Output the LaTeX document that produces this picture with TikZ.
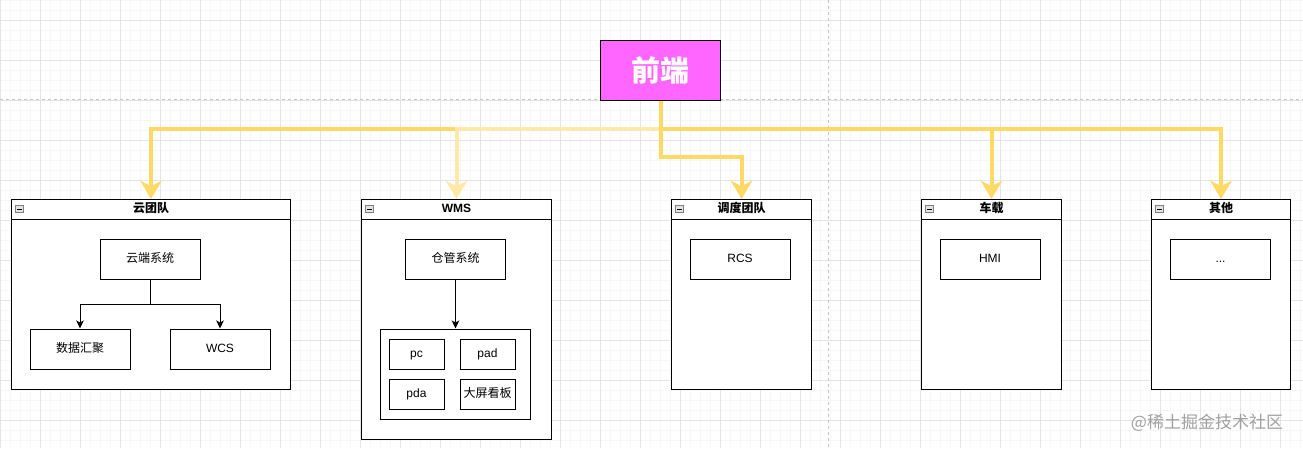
\documentclass[tikz,border=0pt]{standalone}
\usepackage{fontspec}
\setmainfont{Liberation Sans}
\newfontfamily\cjk{Noto Sans CJK SC}
\usetikzlibrary{arrows.meta}
\definecolor{gridmaj}{HTML}{E4E4E4}
\definecolor{gridmin}{HTML}{F7F7F7}
\definecolor{pagebrk}{HTML}{C4C4C4}
\definecolor{yel}{HTML}{FFD966}
\definecolor{yellight}{HTML}{FFE9A8}
\definecolor{mag}{HTML}{FF66FF}
\definecolor{wm}{HTML}{A0A0A0}
\tikzset{
  minorline/.style={draw=gridmin,line width=0.6pt},
  majorline/.style={draw=gridmaj,line width=0.8pt},
  brk/.style={draw=pagebrk,line width=0.8pt,dash pattern=on 3pt off 3pt},
  cont/.style={draw=black,line width=1pt,fill=white,anchor=north west,inner sep=0pt},
  box/.style={draw=black,line width=1pt,fill=white,minimum width=100pt,minimum height=40pt,inner sep=0pt,
              text height=9pt,text depth=2.5pt,font=\fontsize{12}{14}\selectfont},
  small/.style={draw=black,line width=1pt,fill=white,minimum width=55pt,minimum height=30pt,inner sep=0pt,
              text height=9pt,text depth=2.5pt,font=\fontsize{12}{14}\selectfont},
  title/.style={font=\fontsize{12}{14}\selectfont\bfseries,inner sep=0pt,text height=9pt,text depth=2.5pt},
  yline/.style={draw=yel,line width=4pt,-{Stealth[length=18pt,width=21pt,inset=5pt]}},
  ylinelight/.style={draw=yellight,line width=4pt,-{Stealth[length=18pt,width=21pt,inset=5pt]}},
  bline/.style={draw=black,line width=1pt,-{Stealth[length=8pt,width=7.5pt,inset=2pt]}},
  minus/.style={draw=gray,fill=gridmaj,line width=0.6pt,minimum width=8pt,minimum height=7pt,inner sep=0pt},
}
\newcommand{\hdr}[2]{%
  \draw[line width=1pt] ([yshift=-20pt]#1.north west) -- ([yshift=-20pt]#1.north east);
  \node[title] (#1t) at ([yshift=-10pt]#1.north) {#2};
  \node[minus] (#1m) at ([xshift=8.5pt,yshift=-10pt]#1.north west) {};
  \draw[line width=0.7pt] ([xshift=-2.5pt]#1m.center) -- ([xshift=2.5pt]#1m.center);
}
\begin{document}
\begin{tikzpicture}[x=1pt,y=-1pt]
\useasboundingbox (0,0) rectangle (1303,448);
\fill[white] (0,0) rectangle (1303,448);
% grid
\foreach \x in {0,10,...,1300} \draw[minorline] (\x,0) -- (\x,448);
\foreach \y in {0,10,...,440} \draw[minorline] (0,\y) -- (1303,\y);
\foreach \x in {0,40,...,1280} \draw[majorline] (\x,0) -- (\x,448);
\foreach \y in {20,60,...,420} \draw[majorline] (0,\y) -- (1303,\y);
\draw[brk] (0,99.5) -- (1303,99.5);
\draw[brk] (828,0) -- (828,448);

% top node
\node[draw=black,line width=1pt,fill=mag,minimum width=120pt,minimum height=60pt,inner sep=0pt,
      text=white,font=\cjk\bfseries\fontsize{29}{32}\selectfont,anchor=north west] (fe) at (600,40) {前端};

% containers
\node[cont,minimum width=279pt,minimum height=190pt] (c1) at (11,199) {};
\node[cont,minimum width=190pt,minimum height=240pt] (c2) at (361,199) {};
\node[cont,minimum width=140pt,minimum height=190pt] (c3) at (671,199) {};
\node[cont,minimum width=140pt,minimum height=190pt] (c4) at (921,199) {};
\node[cont,minimum width=139pt,minimum height=190pt] (c5) at (1151,199) {};
\hdr{c1}{\cjk 云团队}
\hdr{c2}{WMS}
\hdr{c3}{\cjk 调度团队}
\hdr{c4}{\cjk 车载}
\hdr{c5}{\cjk 其他}

% yellow connectors
\draw[yline] (fe.south) -- ++(0,28) -| (c1.north);
\draw[yline] (fe.south) -- ++(0,28) -| (c4.north);
\draw[yline] (fe.south) -- ++(0,28) -| (c5.north);
\draw[ylinelight] (fe.south) -- ++(0,28) -| (c2.north);
\draw[yline] (fe.south) -- ++(0,56) -| (c3.north);

% 云团队 contents
\node[box,font=\cjk\fontsize{12}{14}\selectfont] (yd) at (150,259) {云端系统};
\node[box,font=\cjk\fontsize{12}{14}\selectfont] (sj) at (80,349) {数据汇聚};
\node[box] (wcs) at (220,349) {WCS};
\draw[bline] (yd.south) -- ++(0,25) -| (sj.north);
\draw[bline] (yd.south) -- ++(0,25) -| (wcs.north);

% WMS contents
\node[box,font=\cjk\fontsize{12}{14}\selectfont] (cg) at (455.5,259) {仓管系统};
\node[draw=black,line width=1pt,fill=white,minimum width=150pt,minimum height=90pt,inner sep=0pt] (grp) at (455.5,374) {};
\draw[bline] (cg.south) -- (grp.north);
\node[small] (pc) at (416.5,354) {pc};
\node[small] (pad) at (487.5,354) {pad};
\node[small] (pda) at (416.5,394) {pda};
\node[small,font=\cjk\fontsize{12}{14}\selectfont] (dp) at (487.5,394) {大屏看板};

% others
\node[box] (rcs) at (740,259) {RCS};
\node[box] (hmi) at (990,259) {HMI};
\node[box] (etc) at (1220.5,259) {...};

% watermark
\node[text=wm,font=\cjk\fontsize{17}{19}\selectfont,inner sep=0pt] (wmk) at (1207,423) {@稀土掘金技术社区};
\end{tikzpicture}
\end{document}
